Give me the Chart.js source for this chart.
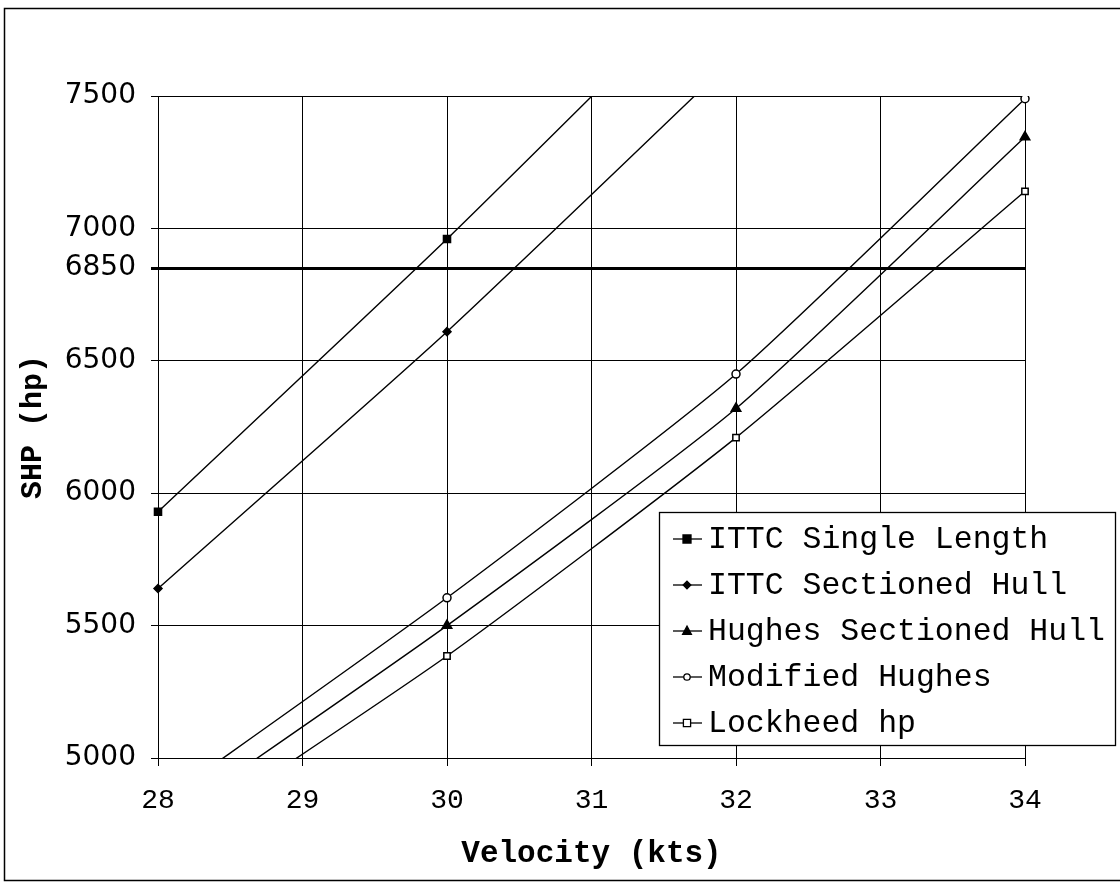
<!DOCTYPE html>
<html>
<head>
<meta charset="utf-8">
<title>SHP vs Velocity</title>
<script src="https://cdn.jsdelivr.net/npm/chart.js@4.4.0/dist/chart.umd.min.js"></script>
<style>
  html, body { margin: 0; padding: 0; background: #fff; }
  canvas { display: block; }
</style>
</head>
<body>
<canvas id="shpChart" width="1120" height="884"></canvas>
<script>
// --- data ---
const velocity = [28, 30, 32, 34];
const ittcSingle = [5930, 6960, 8040];
const ittcSectioned = [5640, 6610, 7650];
const hughesSectioned = [4740, 5500, 6320, 7345];
const modifiedHughes = [4825, 5605, 6450, 7490];
const lockheed = [4650, 5385, 6210, 7140];
const seriesNames = ['ITTC Single Length', 'ITTC Sectioned Hull', 'Hughes Sectioned Hull', 'Modified Hughes', 'Lockheed hp'];
const yTicks = [5000, 5500, 6000, 6500, 6850, 7000, 7500];
const limitLine = 6850;

function toPoints(values) {
    return values.map((v, i) => ({ x: velocity[i], y: v }));
}

function series(name, values, style, radius, fill) {
    return {
        label: name,
        data: toPoints(values),
        borderColor: '#000',
        borderWidth: 1.4,
        pointStyle: style,
        pointRadius: radius,
        pointBackgroundColor: fill,
        pointBorderColor: '#000',
        pointBorderWidth: 1.5,
        tension: 0.2,
        clip: { left: 8, right: 8, top: 0, bottom: 0 }
    };
}

// draws a small marker the same way the chart does, for the legend
function drawMarker(ctx, style, x, y, r, fill) {
    ctx.save();
    ctx.fillStyle = fill;
    ctx.strokeStyle = '#000';
    ctx.lineWidth = 1.3;
    ctx.beginPath();
    if (style === 'rect') {
        ctx.rect(x - r, y - r, 2 * r, 2 * r);
    } else if (style === 'rectRot') {
        ctx.moveTo(x, y - r * 1.2); ctx.lineTo(x + r * 1.2, y);
        ctx.lineTo(x, y + r * 1.2); ctx.lineTo(x - r * 1.2, y);
        ctx.closePath();
    } else if (style === 'triangle') {
        ctx.moveTo(x, y - r * 1.1); ctx.lineTo(x + r, y + r * 0.75);
        ctx.lineTo(x - r, y + r * 0.75); ctx.closePath();
    } else {
        ctx.arc(x, y, r, 0, Math.PI * 2);
    }
    ctx.fill();
    ctx.stroke();
    ctx.restore();
}

const frameAndLegend = {
    id: 'frameAndLegend',
    beforeDraw(chart) {
        const ctx = chart.ctx;
        ctx.save();
        ctx.fillStyle = '#fff';
        ctx.fillRect(0, 0, chart.width, chart.height);
        ctx.strokeStyle = '#000';
        ctx.lineWidth = 1.5;
        ctx.strokeRect(4.5, 8.5, 1140, 872);
        ctx.restore();
    },
    afterDraw(chart) {
        const ctx = chart.ctx;
        const box = { left: 659.5, top: 512.5, width: 456, height: 233 };
        ctx.save();
        ctx.fillStyle = '#fff';
        ctx.fillRect(box.left, box.top, box.width, box.height);
        ctx.strokeStyle = '#000';
        ctx.lineWidth = 1.3;
        ctx.strokeRect(box.left, box.top, box.width, box.height);
        ctx.font = '31.5px "Liberation Mono", "Courier New", monospace';
        ctx.fillStyle = '#000';
        ctx.textBaseline = 'middle';
        chart.data.datasets.forEach((ds, i) => {
            if (!ds.label) return;
            const y = 539 + i * 46;
            ctx.beginPath();
            ctx.moveTo(673, y);
            ctx.lineTo(702, y);
            ctx.lineWidth = 1.3;
            ctx.stroke();
            drawMarker(ctx, ds.pointStyle, 687, y, ds.pointRadius * 0.8, ds.pointBackgroundColor);
            ctx.fillText(ds.label, 708, y + 1);
        });
        ctx.restore();
    }
};

const ctx = document.getElementById('shpChart').getContext('2d');
new Chart(ctx, {
    type: 'line',
    data: {
        datasets: [
            series(seriesNames[0], ittcSingle, 'rect', 5, '#000'),
            series(seriesNames[1], ittcSectioned, 'rectRot', 4, '#000'),
            series(seriesNames[2], hughesSectioned, 'triangle', 5.5, '#000'),
            series(seriesNames[3], modifiedHughes, 'circle', 4, '#fff'),
            series(seriesNames[4], lockheed, 'rect', 4.5, '#fff')
        ]
    },
    options: {
        responsive: false,
        animation: false,
        layout: { padding: { left: 0, top: 96, right: 95, bottom: 0 } },
        plugins: {
            legend: { display: false },
            tooltip: { enabled: false }
        },
        scales: {
            x: {
                type: 'linear',
                min: 28,
                max: 34,
                afterFit: s => { s.height = 126; },
                ticks: {
                    stepSize: 1,
                    color: '#000',
                    padding: 18,
                    font: { family: '"Liberation Mono", "Courier New", monospace', size: 28 }
                },
                grid: { color: '#000', lineWidth: 1, tickLength: 8 },
                border: { color: '#000', width: 1 },
                title: {
                    display: true,
                    text: 'Velocity (kts)',
                    color: '#000',
                    padding: { top: 0, bottom: 11 },
                    font: { family: '"Liberation Mono", "Courier New", monospace', size: 31, weight: 'bold' }
                }
            },
            y: {
                min: 5000,
                max: 7500,
                afterFit: s => { s.width = 158; },
                afterBuildTicks: s => { s.ticks = yTicks.map(v => ({ value: v })); },
                ticks: {
                    color: '#000',
                    padding: 15,
                    callback: v => String(v),
                    font: { family: '"DejaVu Sans", sans-serif', size: 28 }
                },
                grid: {
                    color: '#000',
                    lineWidth: c => (c.tick && c.tick.value === limitLine ? 3 : 1),
                    tickLength: 7
                },
                border: { color: '#000', width: 1 },
                title: {
                    display: true,
                    text: 'SHP (hp)',
                    color: '#000',
                    padding: { top: 15, bottom: 0 },
                    font: { family: '"Liberation Mono", "Courier New", monospace', size: 30, weight: 'bold' }
                }
            }
        }
    },
    plugins: [frameAndLegend]
});
</script>
</body>
</html>
